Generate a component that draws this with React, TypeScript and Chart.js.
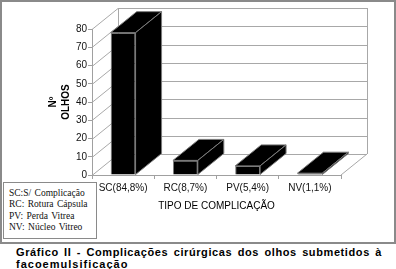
import React, { useEffect, useRef } from 'react';
import { Chart, registerables } from 'chart.js';

Chart.register(...registerables);

const categories = ['SC(84,8%)', 'RC(8,7%)', 'PV(5,4%)', 'NV(1,1%)'];
const eyeCounts = [78, 8, 5, 1];
const yTickValues = [0, 10, 20, 30, 40, 50, 60, 70, 80];
const yTitle = ['Nº', 'OLHOS'];
const xTitle = 'TIPO DE COMPLICAÇÃO';
const legendLines = ['SC:S/ Complicação', 'RC: Rotura Cápsula', 'PV: Perda Vitrea', 'NV: Núcleo Vitreo'];
const captionLine1 = 'Gráfico II - Complicações cirúrgicas dos olhos submetidos à';
const captionLine2 = 'facoemulsificação';

const DX = 26;
const DY = -21;
const SANS = '"Liberation Sans", Arial, sans-serif';

const depthPlugin = {
  id: 'depth3d',
  beforeDatasetsDraw(chart: any) {
    const { ctx, chartArea, scales } = chart;
    const { left, right, top, bottom } = chartArea;
    const y = scales.y;
    ctx.save();
    ctx.strokeStyle = '#a8a8a8';
    ctx.lineWidth = 1;
    ctx.beginPath();
    for (const v of yTickValues) {
      const py = Math.round(y.getPixelForValue(v)) + 0.5;
      ctx.moveTo(left, py);
      ctx.lineTo(left + DX, py + DY);
      ctx.lineTo(right + DX, py + DY);
    }
    const lx = Math.round(left + DX) + 0.5;
    const rx = Math.round(right + DX) + 0.5;
    ctx.moveTo(lx, top + DY);
    ctx.lineTo(lx, bottom + DY);
    ctx.moveTo(rx, top + DY);
    ctx.lineTo(rx, bottom + DY);
    ctx.moveTo(right, bottom);
    ctx.lineTo(right + DX, bottom + DY);
    ctx.stroke();
    ctx.restore();
  },
  afterDatasetsDraw(chart: any) {
    const { ctx } = chart;
    const meta = chart.getDatasetMeta(0);
    ctx.save();
    ctx.fillStyle = '#000';
    ctx.strokeStyle = '#7a7a7a';
    ctx.lineWidth = 1;
    meta.data.forEach((bar: any) => {
      const { x, y, base, width } = bar.getProps(['x', 'y', 'base', 'width'], true);
      const x1 = x - width / 2;
      const x2 = x + width / 2;
      ctx.beginPath();
      ctx.moveTo(x1, y);
      ctx.lineTo(x2, y);
      ctx.lineTo(x2 + DX, y + DY);
      ctx.lineTo(x1 + DX, y + DY);
      ctx.closePath();
      ctx.fill();
      ctx.stroke();
      ctx.beginPath();
      ctx.moveTo(x2, y);
      ctx.lineTo(x2 + DX, y + DY);
      ctx.lineTo(x2 + DX, base + DY);
      ctx.lineTo(x2, base);
      ctx.closePath();
      ctx.fill();
      ctx.stroke();
    });
    ctx.restore();
  },
};

export default function App() {
  const canvasRef = useRef<HTMLCanvasElement | null>(null);

  useEffect(() => {
    if (!canvasRef.current) return;
    const chart = new Chart(canvasRef.current, {
      type: 'bar',
      data: {
        labels: categories,
        datasets: [
          {
            data: eyeCounts,
            backgroundColor: '#000',
            borderColor: '#7a7a7a',
            borderWidth: 1,
            barPercentage: 0.4,
            categoryPercentage: 1,
          },
        ],
      },
      options: {
        animation: false,
        responsive: false,
        devicePixelRatio: 1,
        layout: { padding: { top: 29, right: 55, left: 42, bottom: 29 } },
        plugins: { legend: { display: false }, tooltip: { enabled: false } },
        scales: {
          x: {
            afterFit: (s: any) => {
              s.height = 40;
            },
            grid: { drawOnChartArea: false, tickLength: 4, color: '#a0a0a0', offset: true },
            border: { display: true, color: '#a0a0a0' },
            ticks: { color: '#111', font: { family: SANS, size: 10 }, padding: 3, maxRotation: 0 },
            title: {
              display: true,
              text: xTitle,
              color: '#000',
              font: { family: SANS, size: 10 },
              padding: { top: 0, bottom: 3 },
            },
          },
          y: {
            min: 0,
            max: 80,
            afterFit: (s: any) => {
              s.width = 50;
            },
            afterBuildTicks: (s: any) => {
              s.ticks = yTickValues.map((v) => ({ value: v }));
            },
            grid: { drawOnChartArea: false, tickLength: 4, color: '#a0a0a0' },
            border: { display: true, color: '#a0a0a0' },
            ticks: { color: '#111', font: { family: SANS, size: 10 }, padding: 1 },
            title: {
              display: true,
              text: yTitle,
              color: '#000',
              font: { family: SANS, size: 10, weight: 'bold', lineHeight: 1.35 },
              padding: { top: 4, bottom: 0 },
            },
          },
        },
      },
      plugins: [depthPlugin],
    } as any);
    return () => chart.destroy();
  }, []);

  return (
    <div style={{ position: 'absolute', left: 0, top: 0, width: 396, height: 269, background: '#fff', overflow: 'hidden' }}>
      <canvas ref={canvasRef} width={396} height={244} style={{ position: 'absolute', left: 0, top: 0 }} />
      <div
        style={{
          position: 'absolute',
          left: 0,
          top: 0,
          width: 396,
          height: 244,
          boxSizing: 'border-box',
          border: '2px solid #8a8a8a',
          pointerEvents: 'none',
        }}
      />
      <div
        style={{
          position: 'absolute',
          left: 3,
          top: 182,
          width: 94,
          height: 57,
          boxSizing: 'border-box',
          border: '1px solid #8a8a8a',
          background: '#fff',
          fontFamily: '"Liberation Serif", "Times New Roman", serif',
          fontSize: 9.5,
          lineHeight: '11.3px',
          padding: '5px 0 0 5px',
          color: '#111',
          whiteSpace: 'nowrap',
          wordSpacing: 1,
        }}
      >
        {legendLines.map((t) => (
          <div key={t}>{t}</div>
        ))}
      </div>
      <div
        style={{
          position: 'absolute',
          left: 16,
          top: 246,
          width: 366,
          fontFamily: SANS,
          fontWeight: 'bold',
          fontSize: 11,
          lineHeight: '12px',
          color: '#000',
        }}
      >
        <div style={{ textAlign: 'justify', textAlignLast: 'justify', whiteSpace: 'nowrap', letterSpacing: 0.6 } as any}>
          {captionLine1}
        </div>
        <div style={{ letterSpacing: 1 }}>{captionLine2}</div>
      </div>
    </div>
  );
}
